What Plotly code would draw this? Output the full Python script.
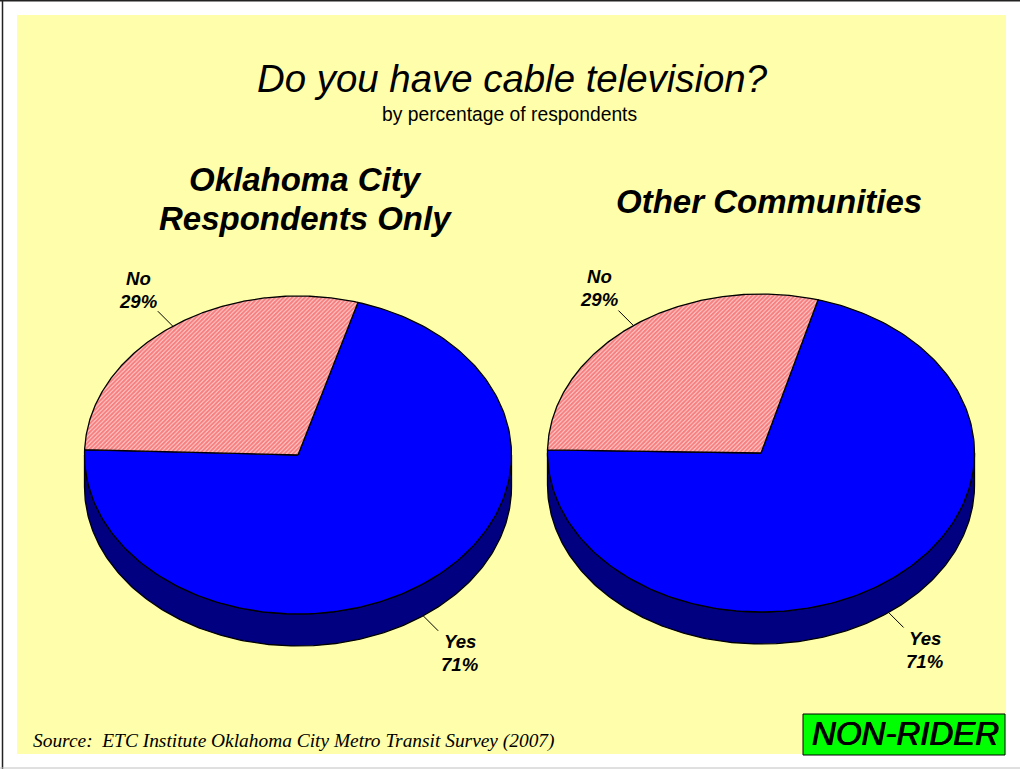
import numpy as np
import plotly.graph_objects as go

# ---- data ----
categories = ["Yes", "No"]
okc_values = [71, 29]
other_values = [71, 29]
panel_titles = [["Oklahoma City", "Respondents Only"], ["Other Communities"]]
title_text = "Do you have cable television?"
subtitle_text = "by percentage of respondents"
source_text = "Source:  ETC Institute Oklahoma City Metro Transit Survey (2007)"
badge_text = "NON-RIDER"

# ---- style ----
W, H = 1020, 769
YELLOW = "#FFFFAB"
BLUE = "#0000FF"
NAVY = "#000080"
SANS = "Liberation Sans, Arial, sans-serif"
SERIF = "Liberation Serif, Times New Roman, serif"
RX, RY, DEPTH = 213.5, 159, 32

fig = go.Figure()


def ellipse(cx, cy, a0, a1, n=240):
    t = np.radians(np.linspace(a0, a1, n))
    return cx + RX * np.sin(t), cy - RY * np.cos(t)


def add_poly(x, y, **kw):
    fig.add_trace(go.Scatter(x=list(x), y=list(y), mode="lines", fill="toself",
                             line=dict(color="black", width=1.3), hoverinfo="skip",
                             showlegend=False, **kw))


def text(x, y, s, size, family=SANS, xanchor="center", **font_kw):
    fig.add_annotation(x=x, y=y, text=s, showarrow=False, xanchor=xanchor, yanchor="middle",
                       font=dict(family=family, size=size, color="black", **font_kw), align="center")


def add_pie(cx, cy, values, start, label_pos):
    total = sum(values)
    # side wall: lower half of the ellipse extruded downward
    x1, y1 = ellipse(cx, cy, 90, 270)
    add_poly(np.r_[x1, x1[::-1], x1[0]], np.r_[y1, y1[::-1] + DEPTH, y1[0]], fillcolor=NAVY)
    angle = start
    for cat, val in zip(categories, values):
        sweep = 360 * val / total
        x, y = ellipse(cx, cy, angle, angle + sweep)
        kw = dict(fillcolor=BLUE) if cat == "Yes" else dict(
            fillcolor="white",
            fillpattern=dict(shape="/", fgcolor="#F00000", bgcolor="#FFFFFF",
                             size=3, solidity=0.8))
        add_poly(np.r_[cx, x, cx], np.r_[cy, y, cy], **kw)
        # leader and label
        mid = np.radians(angle + sweep / 2)
        lx = cx + RX * np.sin(mid)
        ly = cy - RY * np.cos(mid)
        sign = -1 if cat == "No" else 1
        if cat == "Yes":
            ly += DEPTH
        fig.add_trace(go.Scatter(x=[lx, lx + sign * 15], y=[ly, ly + sign * 15], mode="lines",
                                 line=dict(color="black", width=1), hoverinfo="skip",
                                 showlegend=False))
        tx, ty = label_pos[cat]
        text(tx, ty, f"<b><i>{cat}</i></b>", 18.6)
        text(tx, ty + 23, f"<b><i>{val}%</i></b>", 18.6)
        angle += sweep


add_pie(298, 455, okc_values, 16.3, {"Yes": (460, 641), "No": (138, 278.5)})
add_pie(761, 453, other_values, 15.5, {"Yes": (925, 638), "No": (599, 276.5)})

text(512, 78.5, f"<i>{title_text}</i>", 38.4)
text(509, 114.5, subtitle_text, 19.3)
text(305.5, 179.5, f"<b><i>{panel_titles[0][0]}</i></b>", 33)
text(305.5, 218.5, f"<b><i>{panel_titles[0][1]}</i></b>", 33)
text(769, 201.5, f"<b><i>{panel_titles[1][0]}</i></b>", 33)
text(31, 740.5, f"<i>{source_text}</i>", 19.4, SERIF, "left")
text(905, 733, f"<i>{badge_text}</i>", 33, shadow="0.6px 0 0 black, -0.4px 0 0 black")

fig.update_layout(
    width=W, height=H, margin=dict(l=0, r=0, t=0, b=0),
    paper_bgcolor="white", plot_bgcolor="white", showlegend=False,
    xaxis=dict(range=[0, W], visible=False, fixedrange=True),
    yaxis=dict(range=[H, 0], visible=False, fixedrange=True),
    shapes=[
        dict(type="rect", x0=17, x1=1006, y0=15, y1=754, fillcolor=YELLOW, line_width=0, layer="below"),
        dict(type="rect", x0=803, x1=1005, y0=714, y1=755, fillcolor="#00FF00",
             line=dict(color="black", width=1), layer="below"),
        dict(type="line", x0=0, x1=W, y0=0.5, y1=0.5, line=dict(color="#222222", width=2), layer="below"),
        dict(type="line", x0=2.5, x1=2.5, y0=0, y1=H, line=dict(color="#222222", width=1.5), layer="below"),
        dict(type="line", x0=0, x1=W, y0=768, y1=768, line=dict(color="#C0C0C0", width=1), layer="below"),
    ],
)
fig.write_html("out.html", config={"displayModeBar": False},
               post_script="document.body.style.margin='0';")
